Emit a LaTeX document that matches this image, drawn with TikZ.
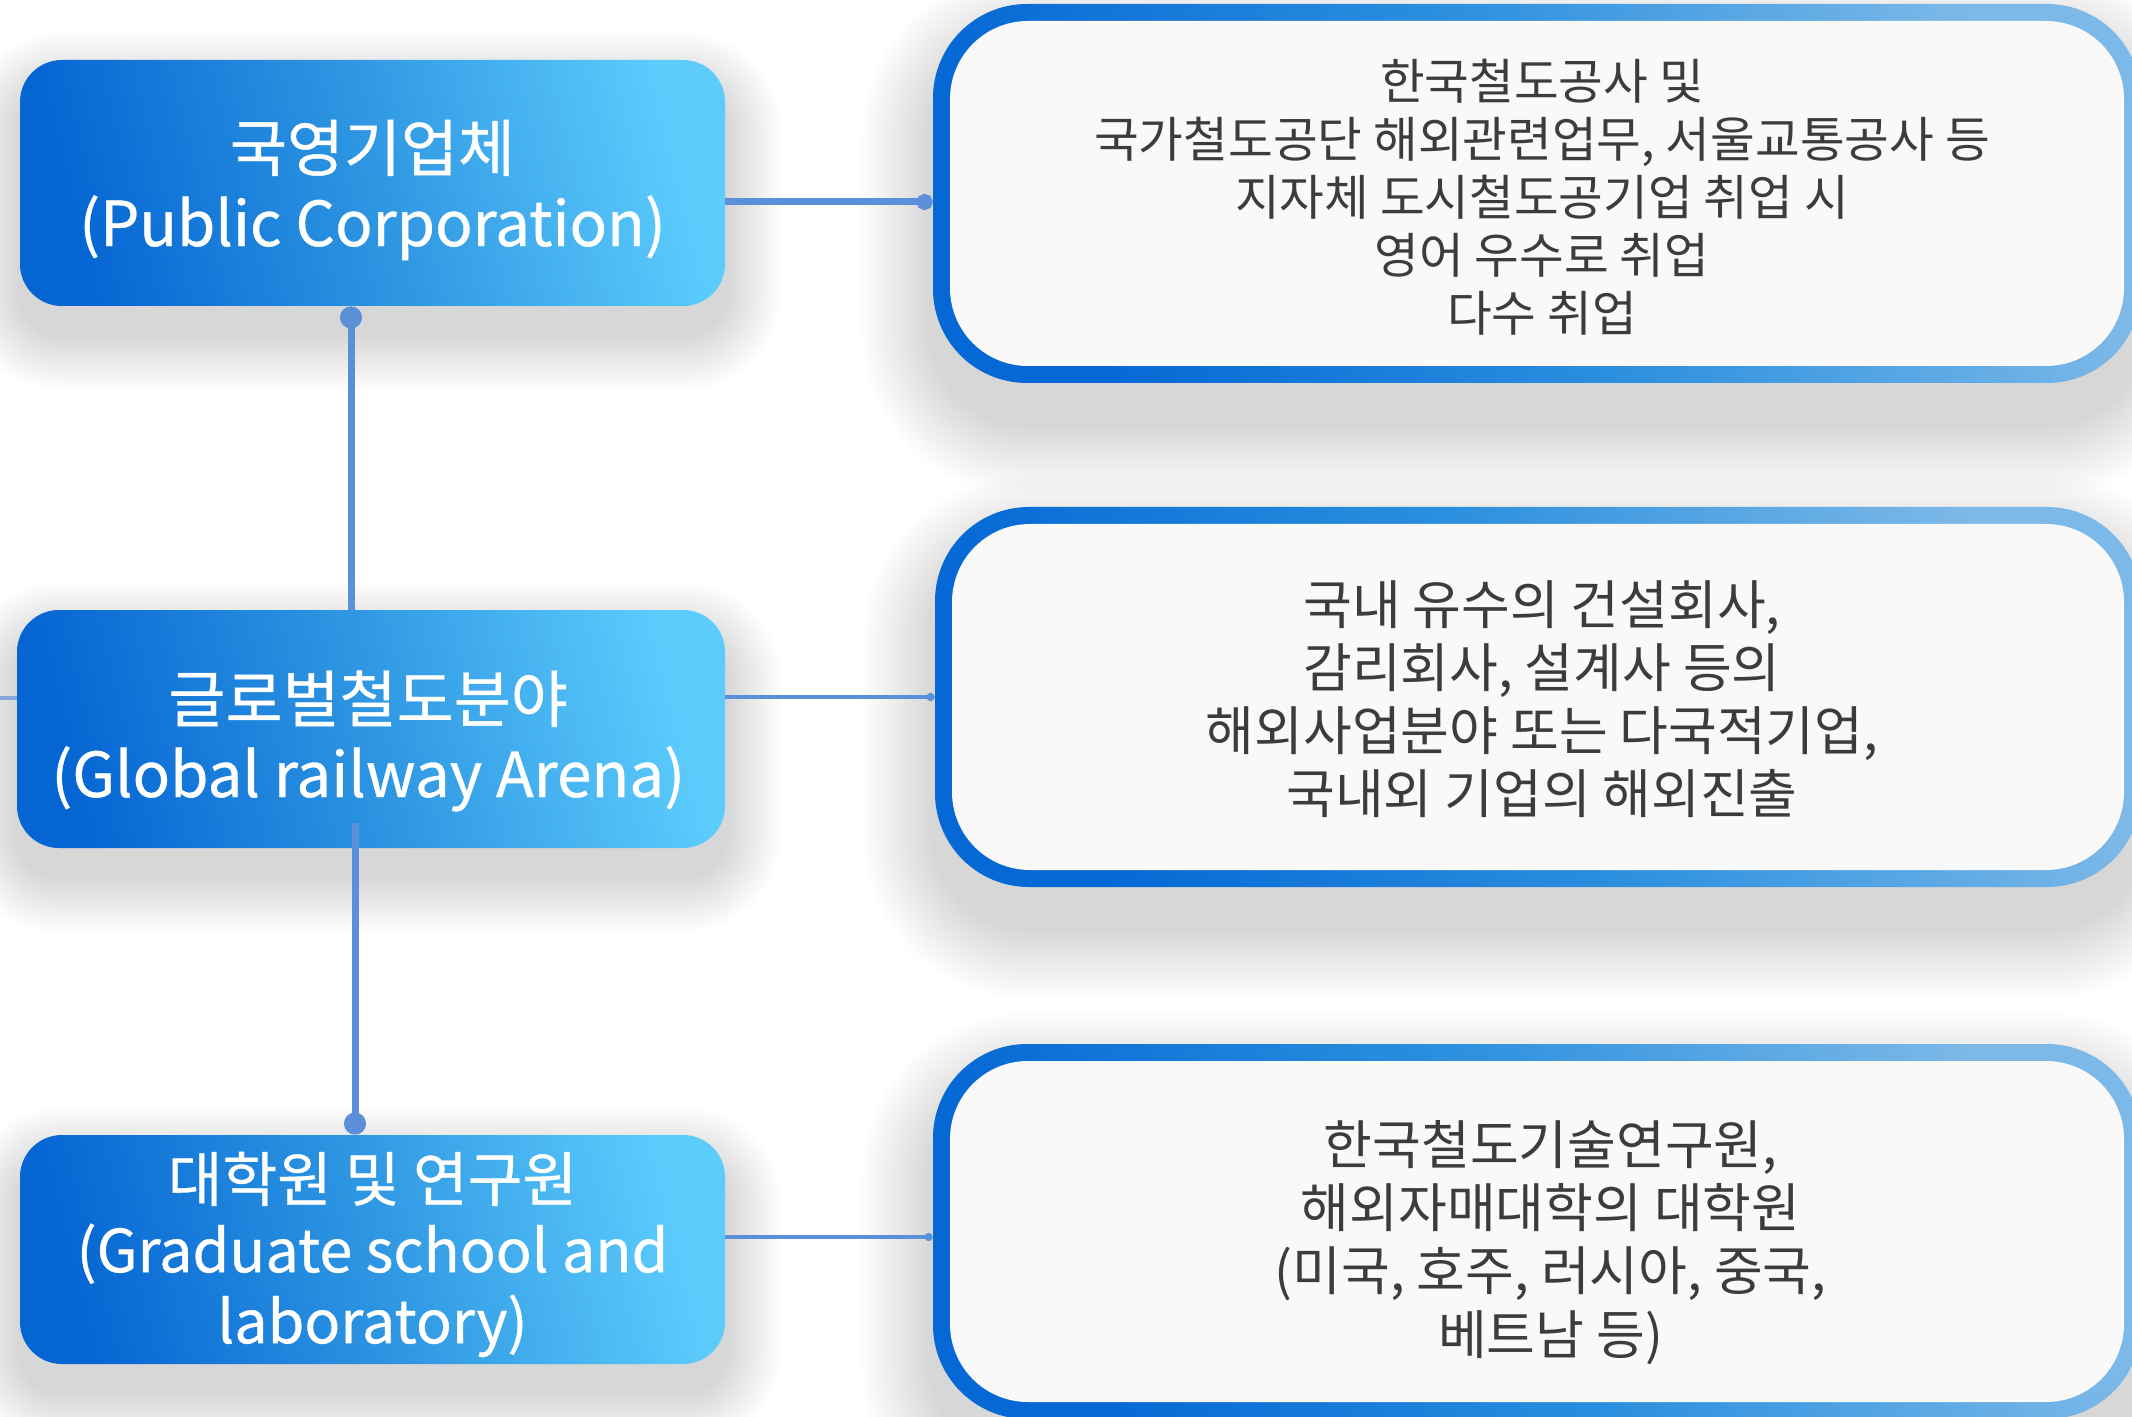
\documentclass[tikz,border=0pt]{standalone}
\usepackage{fontspec}
\newfontfamily\kr{Noto Sans CJK KR}
\newfontfamily\krb{Noto Sans CJK KR}[FakeBold=0.6]
\usetikzlibrary{arrows.meta,calc}
\pgfdeclarelayer{background}
\pgfsetlayers{background,main}
\definecolor{bdark}{HTML}{0565D3}
\definecolor{bmid}{HTML}{2E96E2}
\definecolor{blight}{HTML}{5CCCFD}
\definecolor{rdark}{HTML}{0568D5}
\definecolor{rmid}{HTML}{2C90DF}
\definecolor{rlight}{HTML}{7DB9E8}
\definecolor{rfill}{HTML}{F9F9F9}
\definecolor{conn}{HTML}{5B90D9}
\definecolor{stubc}{HTML}{86A6D8}
\definecolor{rtext}{HTML}{3C3C3C}
\tikzset{
  lbox/.style={rounded corners=21pt, minimum width=352.5pt, inner sep=0pt,
    shading=axis, top color=blight, bottom color=bdark, middle color=bmid,
    shading angle=-76},
  ltext/.style={align=center, text=white, inner sep=0pt},
  ltextA/.style={ltext, font=\krb\fontsize{31}{37.5}\selectfont},
  ltextB/.style={ltext, font=\krb\fontsize{29.7}{35.5}\selectfont},
  rbox/.style={rounded corners=47pt, inner sep=0pt,
    shading=axis, top color=rlight, bottom color=rdark, middle color=rmid,
    shading angle=-65,
    path picture={\fill[rfill, rounded corners=39pt]
      ([shift={(8.5pt,-8.5pt)}]path picture bounding box.north west) rectangle
      ([shift={(-8.5pt,8.5pt)}]path picture bounding box.south east);}},
  rtextA/.style={align=center, text=rtext, inner sep=0pt, font=\kr\fontsize{24.3}{29}\selectfont},
  rtextB/.style={align=center, text=rtext, inner sep=0pt, font=\kr\fontsize{26.5}{31.6}\selectfont},
  thickconn/.style={draw=conn, line width=3.5pt},
  thinconn/.style={draw=conn, line width=2pt},
  stubline/.style={draw=stubc, line width=2pt},
}
% soft shadow: #1 node, #2 downward offset, #3 base corner radius, #4 step
\newcommand{\softshadow}[4]{%
  \foreach \k in {1,...,20}{%
    \fill[black, opacity=0.0065, rounded corners={#3+\k*#4}]
      ([shift={(-\k*#4, \k*#4-#2)}]#1.north west) rectangle
      ([shift={(\k*#4, -\k*#4-#2)}]#1.south east);
  }}
\begin{document}
\begin{tikzpicture}[x=0.5pt,y=-0.5pt]
\useasboundingbox (0,0) rectangle (2132,1417);

% left boxes
\node[lbox, minimum height=123pt] (b1) at (372.5,183) {};
\node[lbox, minimum width=354pt, minimum height=119pt] (b2) at (371,729) {};
\node[lbox, minimum height=114.5pt] (b3) at (372.5,1249.5) {};
\node[ltextA] (b1t) at ([yshift=-3.5pt]b1.center) {국영기업체\\(Public Corporation)};
\node[ltextA] (b2t) at ([xshift=-1.4pt,yshift=-6pt]b2.center) {글로벌철도분야\\(Global railway Arena)};
\node[ltextB] (b3t) at ([yshift=-2.5pt]b3.center) {대학원 및 연구원\\(Graduate school and\\laboratory)};

% right boxes
\node[rbox, minimum width=604pt, minimum height=189.5pt] (r1) at (1537,193.5) {};
\node[rbox, minimum width=603pt, minimum height=190pt] (r2) at (1538,697) {};
\node[rbox, minimum width=604pt, minimum height=187.5pt] (r3) at (1537,1231.5) {};
\node[rtextA] (r1t) at ([xshift=2.5pt,yshift=-2pt]r1.center)
  {한국철도공사 및\\국가철도공단 해외관련업무, 서울교통공사 등\\지자체 도시철도공기업 취업 시\\영어 우수로 취업\\다수 취업};
\node[rtextB] (r2t) at ([xshift=2pt,yshift=-1pt]r2.center)
  {국내 유수의 건설회사,\\감리회사, 설계사 등의\\해외사업분야 또는 다국적기업,\\국내외 기업의 해외진출};
\node[rtextB] (r3t) at ([xshift=6.8pt,yshift=-5.5pt]r3.center)
  {한국철도기술연구원,\\해외자매대학의 대학원\\(미국, 호주, 러시아, 중국,\\베트남 등)};

% shadows
\begin{pgfonlayer}{background}
  \fill[white] (0,0) rectangle (2132,1417);
  \softshadow{b1}{14pt}{21pt}{1.4pt}
  \softshadow{b2}{14pt}{21pt}{1.4pt}
  \softshadow{b3}{14pt}{21pt}{1.4pt}
  \softshadow{r1}{20pt}{47pt}{1.8pt}
  \softshadow{r2}{20pt}{47pt}{1.8pt}
  \softshadow{r3}{20pt}{47pt}{1.8pt}
\end{pgfonlayer}

% connectors
\coordinate (h1) at ([yshift=-9.5pt]b1.east);
\draw[thickconn, -{Circle[length=8pt,width=8pt]}] (h1) -- (h1 -| r1.west);

\coordinate (h2) at ([yshift=16pt]b2.east);
\draw[thinconn, -{Circle[length=4pt,width=4pt]}] (h2) -- (h2 -| r2.west);

\coordinate (h3) at ([yshift=6.25pt]b3.east);
\draw[thinconn, -{Circle[length=4pt,width=4pt]}] (h3) -- (h3 -| r3.west);

\coordinate (v1) at ([xshift=-10.75pt]b1.south);
\draw[thickconn, {Circle[length=11pt,width=11pt]}-] (v1) -- (v1 |- b2.north);

\coordinate (v2) at ([xshift=-8pt,yshift=12.5pt]b2.south);
\draw[thickconn, -{Circle[length=11pt,width=11pt]}] (v2) -- (v2 |- b3.north);

\coordinate (s0) at (0,698);
\draw[stubline] (s0) -- (s0 -| b2.west);
\end{tikzpicture}
\end{document}
